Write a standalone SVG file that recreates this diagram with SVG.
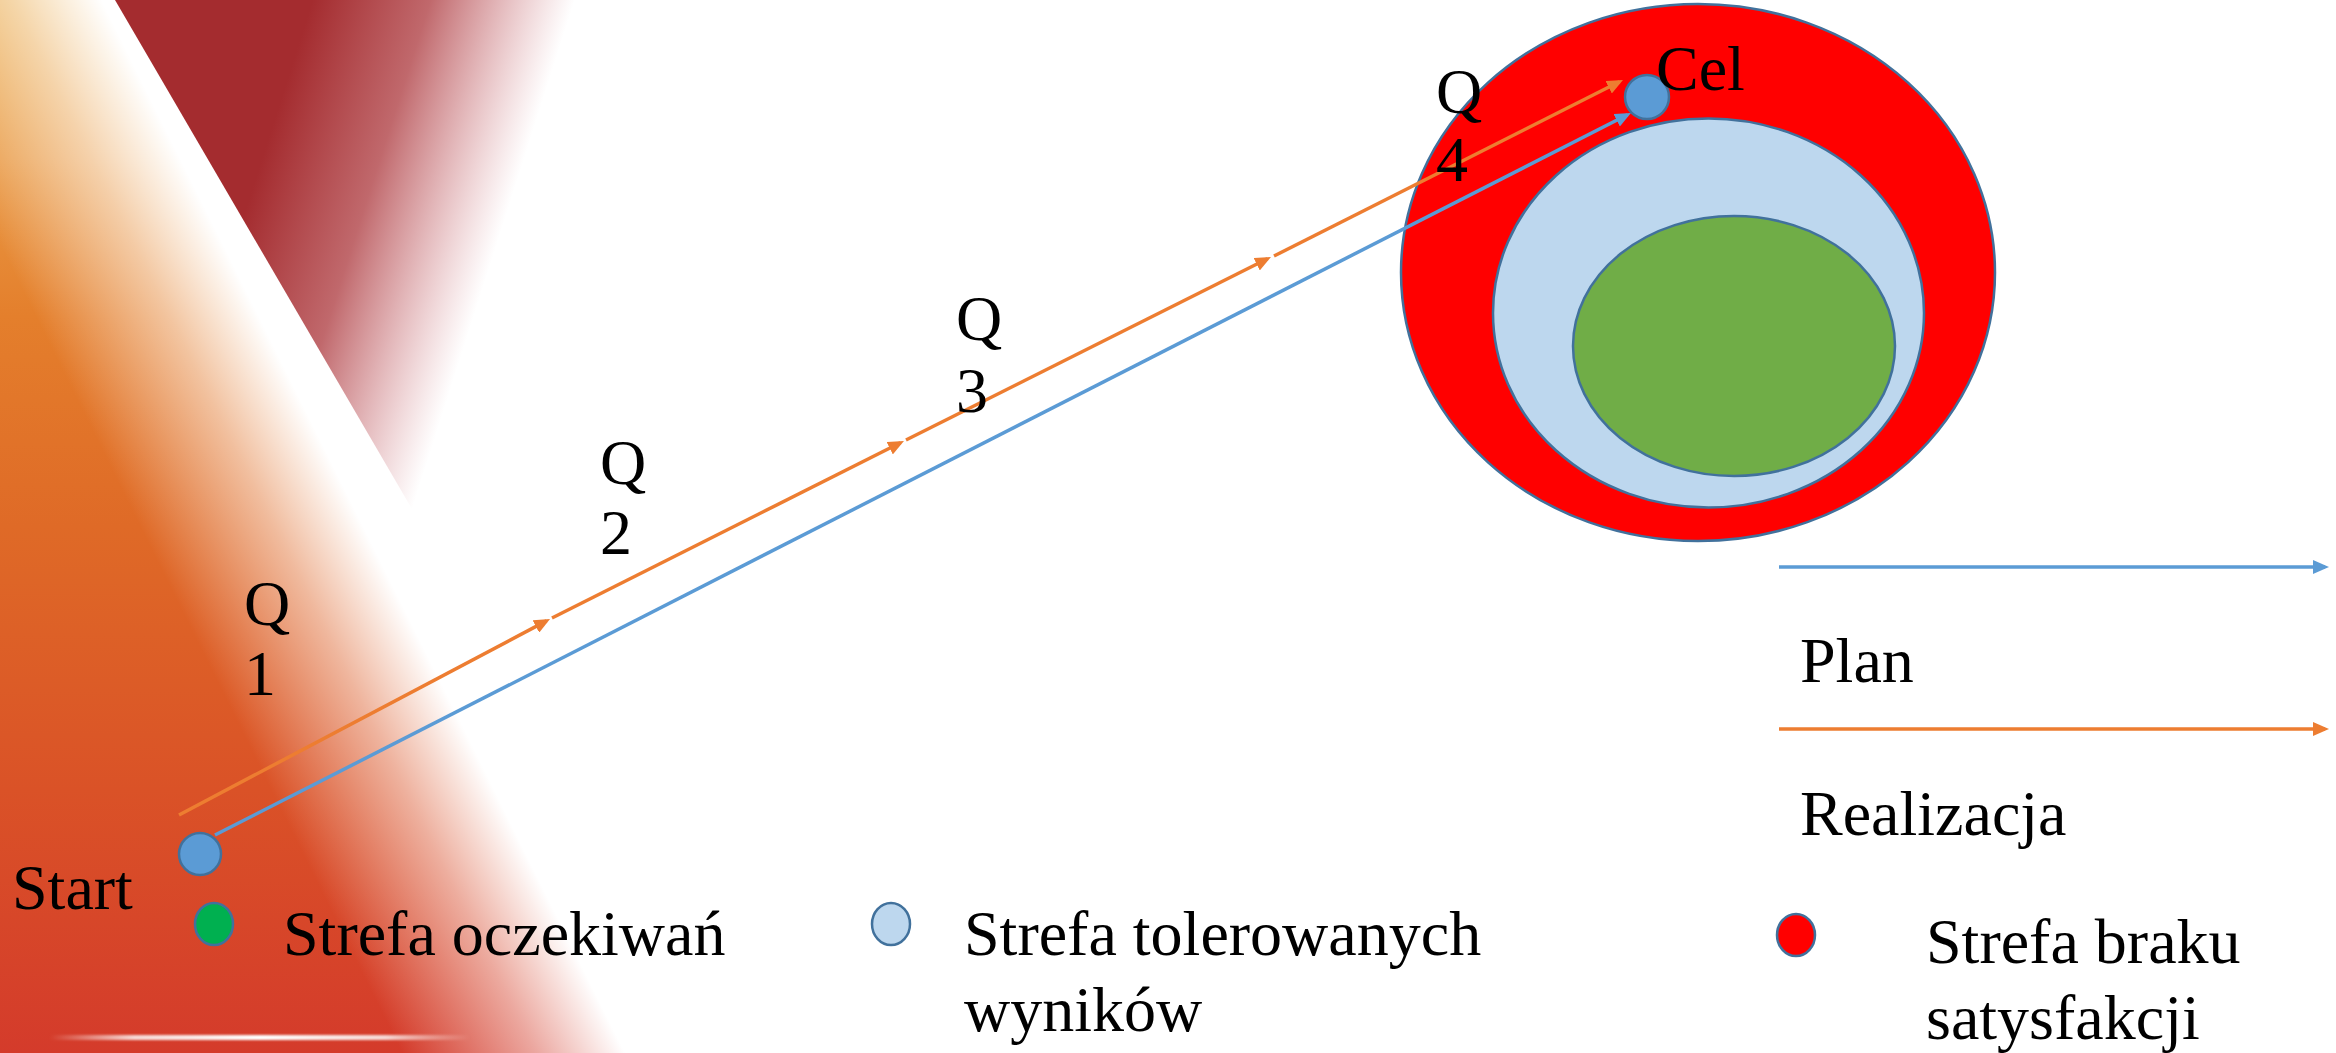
<svg xmlns="http://www.w3.org/2000/svg" width="2336" height="1053" viewBox="0 0 2336 1053">
<style>
text{font-family:"Liberation Serif","Times New Roman",serif;font-size:64px;fill:#000}
.node{stroke:#41719c;stroke-width:2.5}
.blue{fill:#5b9bd5}
.lb{fill:#bdd7ee}
.ln{fill:none;stroke-width:3.5;stroke-linecap:butt}
.lnB{stroke:#5b9bd5}
.lnO{stroke:#ed7d31}
</style>
<defs>
<linearGradient id="bgBase" gradientUnits="userSpaceOnUse" x1="0" y1="0" x2="0" y2="1053">
<stop offset="0" stop-color="#e9a540"/>
<stop offset="0.15" stop-color="#e99a45"/>
<stop offset="0.3" stop-color="#e47f2c"/>
<stop offset="0.5" stop-color="#df6a27"/>
<stop offset="0.75" stop-color="#da5227"/>
<stop offset="1" stop-color="#d43b2b"/>
</linearGradient>
<linearGradient id="bgFade" gradientUnits="userSpaceOnUse" x1="184" y1="615" x2="363" y2="526">
<stop offset="0" stop-color="#fff" stop-opacity="0"/>
<stop offset="0.6" stop-color="#fff" stop-opacity="0.55"/>
<stop offset="1" stop-color="#fff" stop-opacity="1"/>
</linearGradient>
<linearGradient id="redFade" gradientUnits="userSpaceOnUse" x1="337" y1="-76" x2="575" y2="0">
<stop offset="0" stop-color="#a42c2f" stop-opacity="1"/>
<stop offset="0.45" stop-color="#a82e33" stop-opacity="0.72"/>
<stop offset="1" stop-color="#c0505a" stop-opacity="0"/>
</linearGradient>
<linearGradient id="glow" x1="0" y1="0" x2="1" y2="0">
<stop offset="0" stop-color="#fff" stop-opacity="0"/>
<stop offset="0.2" stop-color="#fff" stop-opacity="0.8"/>
<stop offset="0.5" stop-color="#fff" stop-opacity="1"/>
<stop offset="0.8" stop-color="#fff" stop-opacity="0.8"/>
<stop offset="1" stop-color="#fff" stop-opacity="0"/>
</linearGradient>
<filter id="soft" x="-10%" y="-200%" width="120%" height="500%"><feGaussianBlur stdDeviation="1"/></filter>
<marker id="arrB" viewBox="0 0 16 14" refX="12" refY="7" markerWidth="16" markerHeight="14" markerUnits="userSpaceOnUse" orient="auto"><path d="M0,0 L16,7 L0,14 z" fill="#5b9bd5"/></marker>
<marker id="arrO" viewBox="0 0 16 14" refX="12" refY="7" markerWidth="16" markerHeight="14" markerUnits="userSpaceOnUse" orient="auto"><path d="M0,0 L16,7 L0,14 z" fill="#ed7d31"/></marker>
</defs>

<g id="background">
<polygon points="0,0 135,0 661,1053 0,1053" fill="url(#bgBase)"/>
<polygon points="0,0 150,0 676,1053 0,1053" fill="url(#bgFade)"/>
<polygon points="115,0 580,0 412,509" fill="url(#redFade)"/>
<rect x="50" y="1035" width="420" height="5" fill="url(#glow)" filter="url(#soft)"/>
</g>

<g id="zones">
<ellipse id="zone-red" class="node" cx="1698" cy="272.5" rx="297" ry="268.5" fill="#ff0000"/>
<ellipse id="zone-tolerance" class="node lb" cx="1708.5" cy="313" rx="215.5" ry="194.5"/>
<ellipse id="zone-expect" class="node" cx="1734" cy="346" rx="161" ry="130" fill="#70ad47"/>
</g>

<g id="connectors">
<line class="ln lnB" x1="215" y1="835" x2="1627.4" y2="114.8" marker-end="url(#arrB)"/>
<line class="ln lnO" x1="179" y1="815" x2="546.5" y2="620.9" marker-end="url(#arrO)"/>
<line class="ln lnO" x1="552" y1="618" x2="900.4" y2="442.8" marker-end="url(#arrO)"/>
<line class="ln lnO" x1="906" y1="440" x2="1267.4" y2="258.8" marker-end="url(#arrO)"/>
<line class="ln lnO" x1="1274" y1="256" x2="1619.4" y2="81.8" marker-end="url(#arrO)"/>
</g>

<g id="node-start">
<circle class="node blue" cx="200" cy="854" r="21"/>
<text x="12" y="909">Start</text>
</g>
<g id="node-cel">
<circle class="node blue" cx="1647" cy="97" r="22"/>
<text x="1656" y="90">Cel</text>
</g>

<g id="q1"><text x="244" y="625">Q</text><text x="244" y="695">1</text></g>
<g id="q2"><text x="600" y="484">Q</text><text x="600" y="554">2</text></g>
<g id="q3"><text x="956" y="340">Q</text><text x="956" y="412">3</text></g>
<g id="q4"><text x="1436" y="113">Q</text><text x="1436" y="181">4</text></g>

<g id="legend-plan">
<line class="ln lnB" x1="1779" y1="567" x2="2325" y2="567" marker-end="url(#arrB)"/>
<text x="1800" y="682">Plan</text>
</g>
<g id="legend-realizacja">
<line class="ln lnO" x1="1779" y1="729" x2="2325" y2="729" marker-end="url(#arrO)"/>
<text x="1800" y="835">Realizacja</text>
</g>
<g id="legend-oczekiwan">
<ellipse class="node" cx="214" cy="924" rx="19" ry="21" fill="#00b050"/>
<text x="283" y="955">Strefa oczekiwań</text>
</g>
<g id="legend-tolerowanych">
<ellipse class="node lb" cx="891" cy="924" rx="19" ry="21"/>
<text x="964" y="955">Strefa tolerowanych</text>
<text x="964" y="1031">wyników</text>
</g>
<g id="legend-braku">
<ellipse class="node" cx="1796" cy="935" rx="19" ry="21" fill="#ff0000"/>
<text x="1926" y="963">Strefa braku</text>
<text x="1926" y="1039">satysfakcji</text>
</g>
</svg>
